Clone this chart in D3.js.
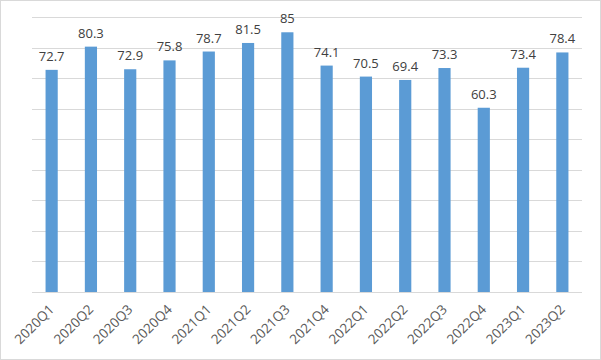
<!DOCTYPE html>
<html><head><meta charset="utf-8">
<script src="https://cdn.jsdelivr.net/npm/d3@7"></script>
<style>body{margin:0;background:#fff}</style>
</head><body><svg id="c" width="601" height="360"></svg>
<script>
const categories = ["2020Q1","2020Q2","2020Q3","2020Q4","2021Q1","2021Q2","2021Q3","2021Q4","2022Q1","2022Q2","2022Q3","2022Q4","2023Q1","2023Q2"];
const values = [72.7,80.3,72.9,75.8,78.7,81.5,85,74.1,70.5,69.4,73.3,60.3,73.4,78.4];
const yTicks = [0,10,20,30,40,50,60,70,80,90];

const svg = d3.select("#c");
svg.append("rect").attr("x",0.5).attr("y",0.5).attr("width",600).attr("height",359)
  .attr("fill","#fff").attr("stroke","#D9D9D9");
const m = {l:32, r:19, t:17, b:68};
const W = 601, H = 360;
const x = d3.scaleBand().domain(categories).range([m.l, W-m.r]).paddingInner(0.69).paddingOuter(0.345);
const y = d3.scaleLinear().domain([0,90]).range([H-m.b, m.t]);

svg.append("g").selectAll("line").data(yTicks).join("line")
  .attr("x1",m.l).attr("x2",W-m.r)
  .attr("y1",d=>Math.round(y(d))+0.5).attr("y2",d=>Math.round(y(d))+0.5)
  .attr("stroke","#D9D9D9").attr("stroke-width",1);

svg.append("g").selectAll("rect").data(values).join("rect")
  .attr("x",(d,i)=>x(categories[i])).attr("width",x.bandwidth())
  .attr("y",d=>y(d)).attr("height",d=>y(0)-y(d))
  .attr("fill","#5B9BD5");

svg.append("g").selectAll("text").data(values).join("text")
  .attr("x",(d,i)=>x(categories[i])+x.bandwidth()/2)
  .attr("y",d=>y(d)-9)
  .attr("text-anchor","middle")
  .attr("font-family","Open Sans, sans-serif").attr("font-size",13)
  .attr("fill","#404040")
  .text(d=>d);

const xa = svg.append("g").attr("transform",`translate(0,${y(0)})`)
  .call(d3.axisBottom(x).tickSize(0).tickPadding(0));
xa.select(".domain").remove();
xa.selectAll("text")
  .attr("font-family","Open Sans, sans-serif").attr("font-size",13.5).attr("fill","#595959")
  .attr("text-anchor","end").attr("y",0).attr("dy","0.35em")
  .attr("transform","translate(0,15) rotate(-45)");
</script></body></html>
